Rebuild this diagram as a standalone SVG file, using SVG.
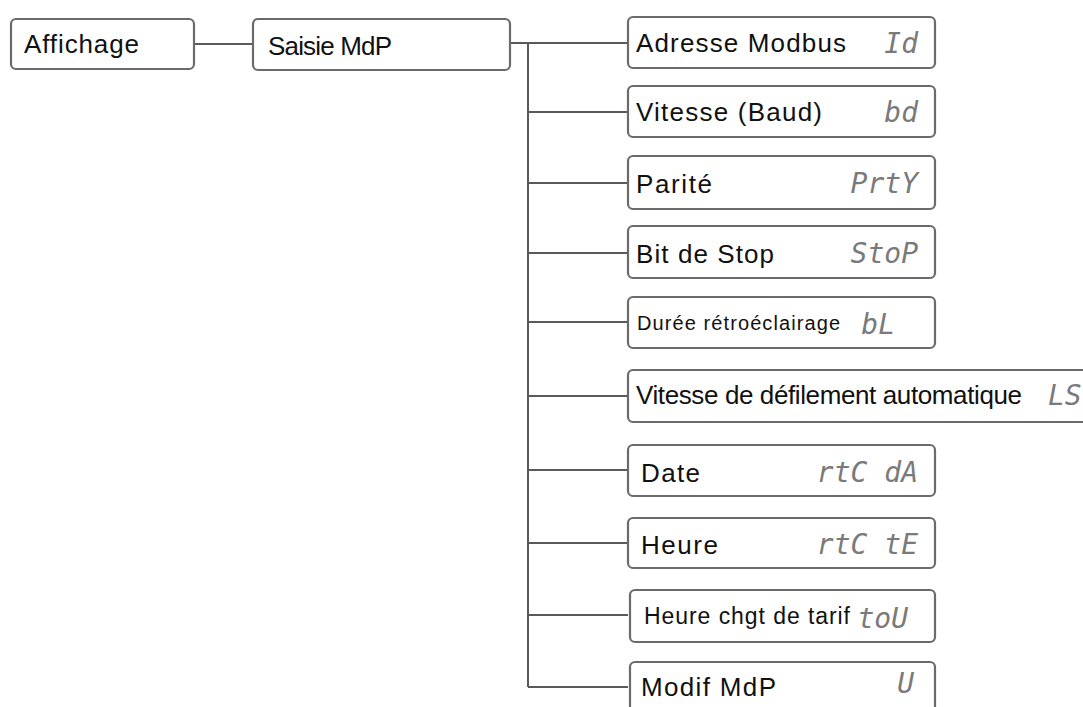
<svg xmlns="http://www.w3.org/2000/svg" width="1083" height="707" viewBox="0 0 1083 707">
<style>
.box{fill:#fff;stroke:#6b6b6b;stroke-width:2.2}
.lbl{font-family:"Liberation Sans",Arial,sans-serif;font-size:26px;fill:#111}
.seg{font-family:"DejaVu Sans Mono","Liberation Mono",monospace;font-size:28px;fill:#7a7a7a;font-style:italic}
.conn{stroke:#5a5a5a;stroke-width:2;fill:none}
</style>
<rect width="1083" height="707" fill="#fff"/>
<g id="connectors">
<path class="conn" d="M194 44H253M510 43H628M528 43V687M528 112H628M528 183H628M528 253H628M528 322H628M528 396H628M528 470H628M528 543H628M528 615H628M528 687H628"/>
</g>
<g id="n-affichage"><rect class="box" x="11" y="19" width="183" height="50" rx="5"/><text class="lbl" x="24" y="53" textLength="115">Affichage</text></g>
<g id="n-saisie"><rect class="box" x="253" y="19" width="257" height="51" rx="5"/><text class="lbl" x="268" y="55" textLength="124">Saisie MdP</text></g>
<g id="n-adresse"><rect class="box" x="628" y="17" width="307" height="51" rx="5"/><text class="lbl" x="636" y="52" textLength="210">Adresse Modbus</text><text class="seg" x="918" y="53" text-anchor="end">Id</text></g>
<g id="n-vitesse"><rect class="box" x="628" y="86" width="307" height="51" rx="5"/><text class="lbl" x="636" y="121" textLength="186">Vitesse (Baud)</text><text class="seg" x="918" y="122" text-anchor="end">bd</text></g>
<g id="n-parite"><rect class="box" x="628" y="156" width="307" height="53" rx="5"/><text class="lbl" x="636" y="193" textLength="76">Parité</text><text class="seg" x="918" y="193" text-anchor="end">PrtY</text></g>
<g id="n-stop"><rect class="box" x="628" y="226" width="307" height="52" rx="5"/><text class="lbl" x="636" y="263" textLength="138">Bit de Stop</text><text class="seg" x="918" y="263" text-anchor="end">StoP</text></g>
<g id="n-duree"><rect class="box" x="628" y="297" width="307" height="51" rx="5"/><text class="lbl" x="637" y="330" style="font-size:20px" textLength="203">Durée rétroéclairage</text><text class="seg" x="895" y="334" text-anchor="end">bL</text></g>
<g id="n-defil"><rect class="box" x="628" y="370" width="470" height="52" rx="5"/><text class="lbl" x="636" y="404" textLength="386">Vitesse de défilement automatique</text><text class="seg" x="1048" y="405">LS</text></g>
<g id="n-date"><rect class="box" x="628" y="445" width="307" height="51" rx="5"/><text class="lbl" x="641" y="482" textLength="59">Date</text><text class="seg" x="918" y="482" text-anchor="end">rtC dA</text></g>
<g id="n-heure"><rect class="box" x="628" y="518" width="307" height="50" rx="5"/><text class="lbl" x="641" y="554" textLength="77">Heure</text><text class="seg" x="918" y="554" text-anchor="end">rtC tE</text></g>
<g id="n-tarif"><rect class="box" x="630" y="590" width="305" height="52" rx="5"/><text class="lbl" x="644" y="624" style="font-size:23px" textLength="206">Heure chgt de tarif</text><text class="seg" x="908" y="628" text-anchor="end">toU</text></g>
<g id="n-modif"><rect class="box" x="630" y="662" width="305" height="60" rx="5"/><text class="lbl" x="641" y="696" textLength="135">Modif MdP</text><text class="seg" x="914" y="693" text-anchor="end">U</text></g>
</svg>
